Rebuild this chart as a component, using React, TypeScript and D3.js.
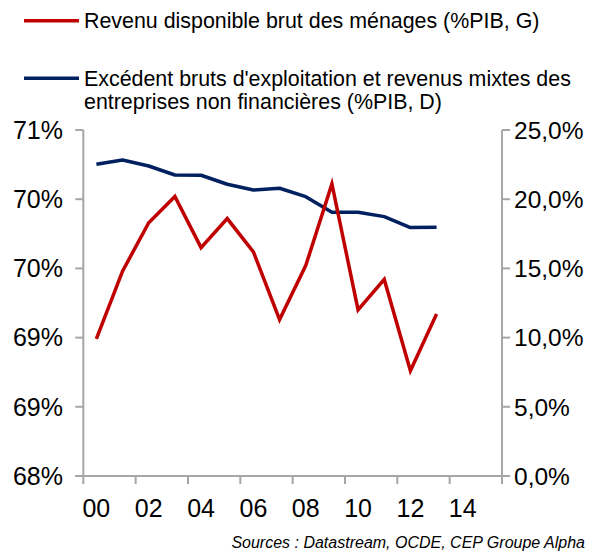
import React from 'react';
import * as d3 from 'd3';

// data
const years = [2000, 2001, 2002, 2003, 2004, 2005, 2006, 2007, 2008, 2009, 2010, 2011, 2012, 2013];
const revenuMenages = [68.99, 69.48, 69.83, 70.02, 69.65, 69.86, 69.62, 69.13, 69.52, 70.11, 69.2, 69.42, 68.76, 69.17];
const excedentEntreprises = [22.52, 22.83, 22.4, 21.75, 21.73, 21.08, 20.66, 20.79, 20.18, 19.05, 19.05, 18.74, 17.95, 17.97];

const leftTicks = [68, 68.5, 69, 69.5, 70, 70.5];
const leftTickLabels = ['68%', '69%', '69%', '70%', '70%', '71%'];
const rightTicks = [0, 5, 10, 15, 20, 25];
const rightTickLabels = ['0,0%', '5,0%', '10,0%', '15,0%', '20,0%', '25,0%'];
const xTicks = [2000, 2002, 2004, 2006, 2008, 2010, 2012, 2014, 2016];
const xLabelYears = [2000, 2002, 2004, 2006, 2008, 2010, 2012, 2014];

const legendRed = 'Revenu disponible brut des ménages (%PIB, G)';
const legendBlue = ["Excédent bruts d'exploitation et revenus mixtes des", 'entreprises non financières (%PIB, D)'];
const source = 'Sources : Datastream, OCDE, CEP Groupe Alpha';

const RED = '#C00000';
const BLUE = '#002060';
const AXIS = '#A6A6A6';
const FONT = '"Liberation Sans", Arial, sans-serif';

const App = () => {
	const width = 615;
	const height = 553;
	const left = 83.3;
	const right = 502;
	const top = 130;
	const bottom = 476;

	// years are drawn at the middle of their slot
	const x = d3.scaleLinear().domain([2000, 2016]).range([left, right]);
	const yLeft = d3.scaleLinear().domain([68, 70.5]).range([bottom, top]);
	const yRight = d3.scaleLinear().domain([0, 25]).range([bottom, top]);

	const redLine = d3.line<number>()
		.x((d, i) => x(years[i] + 0.5))
		.y(d => yLeft(d));
	const blueLine = d3.line<number>()
		.x((d, i) => x(years[i] + 0.5))
		.y(d => yRight(d));

	return (
		<svg width={width} height={height} style={{display: 'block', position: 'absolute', left: 0, top: 0}} fontFamily={FONT}>
			<rect width={width} height={height} fill="#fff" />

			{/* legend */}
			<line x1={24} x2={79} y1={20.7} y2={20.7} stroke={RED} strokeWidth={3.5} />
			<text x={84} y={27.5} fontSize={21.4} fill="#000">{legendRed}</text>
			<line x1={24} x2={79} y1={78.3} y2={78.3} stroke={BLUE} strokeWidth={3.5} />
			<text x={84} y={85.5} fontSize={21.4} fill="#000">{legendBlue[0]}</text>
			<text x={84} y={109} fontSize={21.4} fill="#000">{legendBlue[1]}</text>

			{/* axes */}
			<line x1={left} x2={left} y1={top} y2={bottom} stroke={AXIS} strokeWidth={2} />
			<line x1={right} x2={right} y1={top} y2={bottom} stroke={AXIS} strokeWidth={2} />
			<line x1={left - 8} x2={right + 8} y1={bottom} y2={bottom} stroke={AXIS} strokeWidth={2} />
			{leftTicks.map((t, i) => (
				<g key={'l' + i}>
					<line x1={left - 8} x2={left} y1={yLeft(t)} y2={yLeft(t)} stroke={AXIS} strokeWidth={2} />
					<text x={63} y={yLeft(t) + 8.8} fontSize={25} textAnchor="end" fill="#000">{leftTickLabels[i]}</text>
				</g>
			))}
			{rightTicks.map((t, i) => (
				<g key={'r' + i}>
					<line x1={right} x2={right + 8} y1={yRight(t)} y2={yRight(t)} stroke={AXIS} strokeWidth={2} />
					<text x={514} y={yRight(t) + 8.8} fontSize={24.5} fill="#000">{rightTickLabels[i]}</text>
				</g>
			))}
			{xTicks.map(t => (
				<line key={'x' + t} x1={x(t)} x2={x(t)} y1={bottom} y2={bottom + 8} stroke={AXIS} strokeWidth={2} />
			))}
			{xLabelYears.map(t => (
				<text key={'xl' + t} x={x(t + 0.5)} y={517} fontSize={25} textAnchor="middle" fill="#000">
					{String(t % 100).padStart(2, '0')}
				</text>
			))}

			{/* series */}
			<path d={blueLine(excedentEntreprises) ?? ''} fill="none" stroke={BLUE} strokeWidth={3.5} strokeLinejoin="round" />
			<path d={redLine(revenuMenages) ?? ''} fill="none" stroke={RED} strokeWidth={3.5} strokeLinejoin="miter" />

			<text x={585} y={548} fontSize={16} fontStyle="italic" textAnchor="end" fill="#000">{source}</text>
		</svg>
	);
};

export default App;
